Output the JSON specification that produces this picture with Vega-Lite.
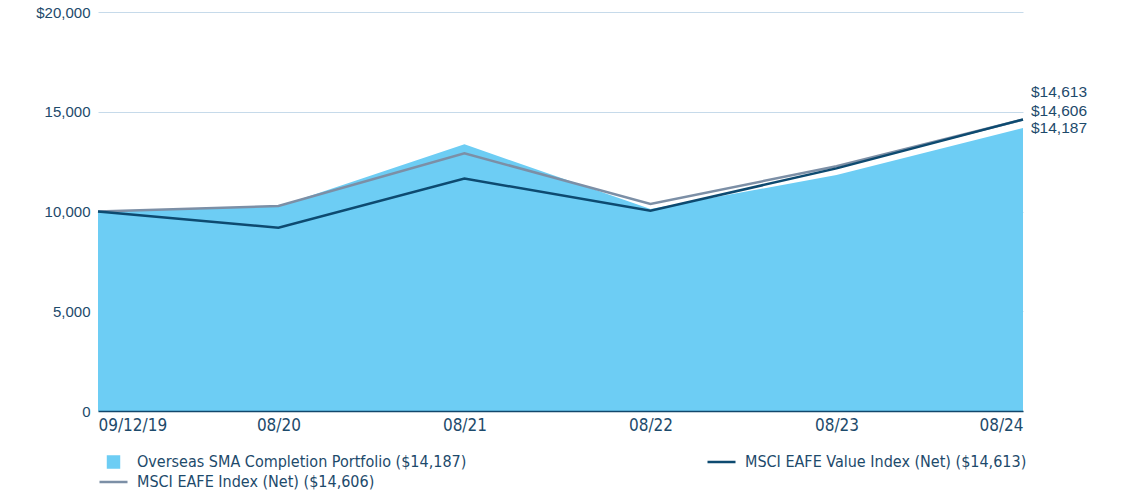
{
  "$schema": "https://vega.github.io/schema/vega-lite/v6.json",
  "autosize": "none",
  "width": 925,
  "height": 399,
  "padding": {"left": 98, "top": 12, "right": 98, "bottom": 83},
  "background": "white",
  "config": {
    "view": {"stroke": null},
    "font": "Liberation Sans",
    "text": {"color": "#1d4a6b"},
    "legend": {
      "title": null,
      "orient": "none",
      "legendX": 0,
      "legendY": 442,
      "direction": "horizontal",
      "columns": 2,
      "columnPadding": 239,
      "rowPadding": 4,
      "clipHeight": 16,
      "symbolType": "stroke",
      "symbolSize": 784,
      "symbolStrokeWidth": 2.5,
      "labelFont": "DejaVu Sans Condensed, Roboto",
      "labelFontSize": 16,
      "labelColor": "#1d4a6b",
      "labelOffset": 8,
      "labelLimit": 500
    }
  },
  "data": {
    "values": [
      {"date": "2019-09-12", "series": "Overseas SMA Completion Portfolio ($14,187)", "value": 10000},
      {"date": "2020-08-31", "series": "Overseas SMA Completion Portfolio ($14,187)", "value": 10250},
      {"date": "2021-08-31", "series": "Overseas SMA Completion Portfolio ($14,187)", "value": 13370},
      {"date": "2022-08-31", "series": "Overseas SMA Completion Portfolio ($14,187)", "value": 10120},
      {"date": "2023-08-31", "series": "Overseas SMA Completion Portfolio ($14,187)", "value": 11830},
      {"date": "2024-08-31", "series": "Overseas SMA Completion Portfolio ($14,187)", "value": 14187},
      {"date": "2019-09-12", "series": "MSCI EAFE Value Index (Net) ($14,613)", "value": 10000},
      {"date": "2020-08-31", "series": "MSCI EAFE Value Index (Net) ($14,613)", "value": 9190},
      {"date": "2021-08-31", "series": "MSCI EAFE Value Index (Net) ($14,613)", "value": 11650},
      {"date": "2022-08-31", "series": "MSCI EAFE Value Index (Net) ($14,613)", "value": 10040},
      {"date": "2023-08-31", "series": "MSCI EAFE Value Index (Net) ($14,613)", "value": 12160},
      {"date": "2024-08-31", "series": "MSCI EAFE Value Index (Net) ($14,613)", "value": 14613},
      {"date": "2019-09-12", "series": "MSCI EAFE Index (Net) ($14,606)", "value": 10000},
      {"date": "2020-08-31", "series": "MSCI EAFE Index (Net) ($14,606)", "value": 10276},
      {"date": "2021-08-31", "series": "MSCI EAFE Index (Net) ($14,606)", "value": 12920},
      {"date": "2022-08-31", "series": "MSCI EAFE Index (Net) ($14,606)", "value": 10376},
      {"date": "2023-08-31", "series": "MSCI EAFE Index (Net) ($14,606)", "value": 12270},
      {"date": "2024-08-31", "series": "MSCI EAFE Index (Net) ($14,606)", "value": 14606}
    ]
  },
  "encoding": {
    "x": {
      "field": "date",
      "type": "temporal",
      "scale": {"domain": ["2019-09-12", "2024-08-31"], "nice": false},
      "axis": {
        "title": null,
        "values": ["2019-09-12", "2020-08-31", "2021-08-31", "2022-08-31", "2023-08-31", "2024-08-31"],
        "labelExpr": "datum.index == 0 ? timeFormat(datum.value, '%m/%d/%y') : timeFormat(datum.value, '%m/%y')",
        "labelFlush": true,
        "labelFont": "DejaVu Sans Condensed, Roboto",
        "labelFontSize": 17,
        "labelColor": "#1d4a6b",
        "labelPadding": 6,
        "ticks": false,
        "grid": false,
        "domain": true,
        "domainColor": "#12476b",
        "domainWidth": 1.5,
        "zindex": 2
      }
    },
    "y": {
      "field": "value",
      "type": "quantitative",
      "scale": {"domain": [0, 20000], "nice": false},
      "axis": {
        "title": null,
        "values": [0, 5000, 10000, 15000, 20000],
        "labelExpr": "datum.value == 20000 ? '$20,000' : format(datum.value, ',')",
        "labelFont": "Liberation Sans",
        "labelFontSize": 15,
        "labelColor": "#1d4a6b",
        "labelPadding": 8,
        "ticks": false,
        "domain": false,
        "grid": true,
        "gridColor": "#c6daea",
        "gridWidth": 1
      }
    }
  },
  "layer": [
    {
      "transform": [{"filter": "datum.series == 'Overseas SMA Completion Portfolio ($14,187)'"}],
      "mark": {"type": "area", "opacity": 1, "interpolate": "linear"},
      "encoding": {
        "color": {
          "field": "series",
          "type": "nominal",
          "sort": null,
          "scale": {
            "domain": ["Overseas SMA Completion Portfolio ($14,187)", "MSCI EAFE Value Index (Net) ($14,613)", "MSCI EAFE Index (Net) ($14,606)"],
            "range": ["#6dcdf4", "#0d4a70", "#7c8fa6"]
          },
          "legend": {
            "encode": {
              "symbols": {
                "update": {
                  "shape": {"signal": "datum.index == 0 ? 'square' : 'stroke'"},
                  "size": {"signal": "datum.index == 0 ? 120 : 784"},
                  "fill": {"signal": "datum.index == 0 ? '#6dcdf4' : 'transparent'"},
                  "stroke": {"signal": "datum.index == 0 ? 'transparent' : (datum.index == 1 ? '#0d4a70' : '#7c8fa6')"},
                  "strokeWidth": {"value": 2.5},
                  "opacity": {"value": 1}
                }
              }
            }
          }
        }
      }
    },
    {
      "transform": [{"filter": "datum.series == 'MSCI EAFE Index (Net) ($14,606)'"}],
      "mark": {"type": "line", "strokeWidth": 2.5, "interpolate": "linear"},
      "encoding": {
        "color": {
          "field": "series",
          "type": "nominal",
          "sort": null,
          "legend": {
            "encode": {
              "symbols": {
                "update": {
                  "shape": {"signal": "datum.index == 0 ? 'square' : 'stroke'"},
                  "size": {"signal": "datum.index == 0 ? 120 : 784"},
                  "fill": {"signal": "datum.index == 0 ? '#6dcdf4' : 'transparent'"},
                  "stroke": {"signal": "datum.index == 0 ? 'transparent' : (datum.index == 1 ? '#0d4a70' : '#7c8fa6')"},
                  "strokeWidth": {"value": 2.5},
                  "opacity": {"value": 1}
                }
              }
            }
          }
        }
      }
    },
    {
      "transform": [{"filter": "datum.series == 'MSCI EAFE Value Index (Net) ($14,613)'"}],
      "mark": {"type": "line", "strokeWidth": 2.5, "interpolate": "linear"},
      "encoding": {
        "color": {
          "field": "series",
          "type": "nominal",
          "sort": null,
          "legend": {
            "encode": {
              "symbols": {
                "update": {
                  "shape": {"signal": "datum.index == 0 ? 'square' : 'stroke'"},
                  "size": {"signal": "datum.index == 0 ? 120 : 784"},
                  "fill": {"signal": "datum.index == 0 ? '#6dcdf4' : 'transparent'"},
                  "stroke": {"signal": "datum.index == 0 ? 'transparent' : (datum.index == 1 ? '#0d4a70' : '#7c8fa6')"},
                  "strokeWidth": {"value": 2.5},
                  "opacity": {"value": 1}
                }
              }
            }
          }
        }
      }
    },
    {
      "transform": [{"filter": "datum.series == 'MSCI EAFE Value Index (Net) ($14,613)' && year(datum.date) == 2024"}],
      "mark": {"type": "text", "align": "left", "baseline": "middle", "dx": 8, "dy": -27, "fontSize": 15.5, "font": "Liberation Sans", "color": "#1d4a6b"},
      "encoding": {"text": {"field": "value", "type": "quantitative", "format": "$,"}}
    },
    {
      "transform": [{"filter": "datum.series == 'MSCI EAFE Index (Net) ($14,606)' && year(datum.date) == 2024"}],
      "mark": {"type": "text", "align": "left", "baseline": "middle", "dx": 8, "dy": -9, "fontSize": 15.5, "font": "Liberation Sans", "color": "#1d4a6b"},
      "encoding": {"text": {"field": "value", "type": "quantitative", "format": "$,"}}
    },
    {
      "transform": [{"filter": "datum.series == 'Overseas SMA Completion Portfolio ($14,187)' && year(datum.date) == 2024"}],
      "mark": {"type": "text", "align": "left", "baseline": "middle", "dx": 8, "dy": 0, "fontSize": 15.5, "font": "Liberation Sans", "color": "#1d4a6b"},
      "encoding": {"text": {"field": "value", "type": "quantitative", "format": "$,"}}
    }
  ]
}
